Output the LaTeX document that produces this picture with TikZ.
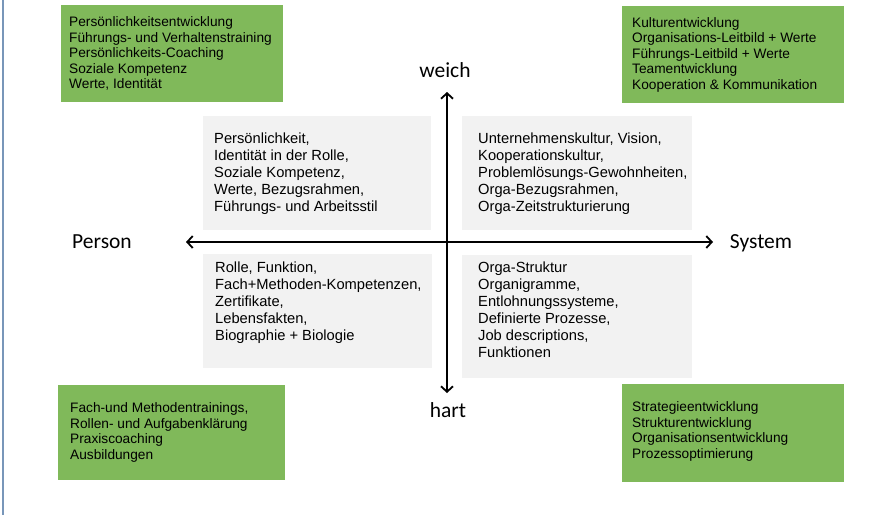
\documentclass[tikz,border=0pt]{standalone}
\usepackage{fontspec}
\setmainfont{Liberation Sans}
\newfontfamily\calibfont{Carlito}
\usetikzlibrary{arrows.meta}
\definecolor{boxgreen}{RGB}{128,185,90}
\definecolor{boxgray}{RGB}{242,242,242}
\definecolor{edgeblue}{RGB}{120,150,185}
\begin{document}
\begin{tikzpicture}[x=1pt,y=-1pt,
  greenbox/.style={fill=boxgreen, draw=none, inner sep=0pt, outer sep=0pt, anchor=north west},
  graybox/.style={fill=boxgray, draw=none, inner sep=0pt, outer sep=0pt, anchor=north west},
  greentext/.style={anchor=north west, inner sep=0pt, align=left, text=black, font=\fontsize{13.7}{15.5}\selectfont},
  graytext/.style={anchor=north west, inner sep=0pt, align=left, text=black, font=\fontsize{14.7}{17}\selectfont},
  axislabel/.style={inner sep=0pt, text=black, font=\calibfont\fontsize{21.5}{25}\selectfont},
  axisline/.style={line width=1.8pt, {Straight Barb[length=5.5pt,width=12pt]}-{Straight Barb[length=5.5pt,width=12pt]}}]
\useasboundingbox (0,0) rectangle (894,515);
\fill[white] (0,0) rectangle (894,515);
\draw[edgeblue, line width=2pt] (2.5,0) -- (2.5,515);
% green boxes
\node[greenbox, minimum width=222, minimum height=97] (gtl) at (61,5) {};
\node[greenbox, minimum width=222, minimum height=97] (gtr) at (622,6) {};
\node[greenbox, minimum width=227, minimum height=95] (gbl) at (58,385) {};
\node[greenbox, minimum width=222, minimum height=98] (gbr) at (622,384) {};
% gray boxes
\node[graybox, minimum width=228, minimum height=114] (qtl) at (203,116) {};
\node[graybox, minimum width=230, minimum height=114] (qtr) at (462,116) {};
\node[graybox, minimum width=229, minimum height=114] (qbl) at (203,254) {};
\node[graybox, minimum width=230, minimum height=123] (qbr) at (462,255) {};
% green texts
\node[greentext] (gtlt) at (69,16.5) {Persönlichkeitsentwicklung\\Führungs- und Verhaltenstraining\\Persönlichkeits-Coaching\\Soziale Kompetenz\\Werte, Identität};
\node[greentext] (gtrt) at (632,17) {Kulturentwicklung\\Organisations-Leitbild + Werte\\Führungs-Leitbild + Werte\\Teamentwicklung\\Kooperation \& Kommunikation};
\node[greentext] (gblt) at (70,402.5) {Fach-und Methodentrainings,\\Rollen- und Aufgabenklärung\\Praxiscoaching\\Ausbildungen};
\node[greentext] (gbrt) at (632,401.5) {Strategieentwicklung\\Strukturentwicklung\\Organisationsentwicklung\\Prozessoptimierung};
% gray texts
\node[graytext] (qtlt) at (214,132.5) {Persönlichkeit,\\Identität in der Rolle,\\Soziale Kompetenz,\\Werte, Bezugsrahmen,\\Führungs- und Arbeitsstil};
\node[graytext] (qtrt) at (478,132.5) {Unternehmenskultur, Vision,\\Kooperationskultur,\\Problemlösungs-Gewohnheiten,\\Orga-Bezugsrahmen,\\Orga-Zeitstrukturierung};
\node[graytext] (qblt) at (215,262) {Rolle, Funktion,\\Fach+Methoden-Kompetenzen,\\Zertifikate,\\Lebensfakten,\\Biographie + Biologie};
\node[graytext] (qbrt) at (478,262) {Orga-Struktur\\Organigramme,\\Entlohnungssysteme,\\Definierte Prozesse,\\Job descriptions,\\Funktionen};
% axes
\coordinate (aleft) at (186,242);
\coordinate (aright) at (713,242);
\coordinate (atop) at (447,92);
\coordinate (abottom) at (447,393);
\draw[axisline] (aleft) -- (aright);
\draw[axisline] (atop) -- (abottom);
% axis labels
\node[axislabel] (weich) at (445,70) {weich};
\node[axislabel] (hart) at (448,410) {hart};
\node[axislabel] (person) at (102,242) {Person};
\node[axislabel] (system) at (761,243) {System};
\end{tikzpicture}
\end{document}
